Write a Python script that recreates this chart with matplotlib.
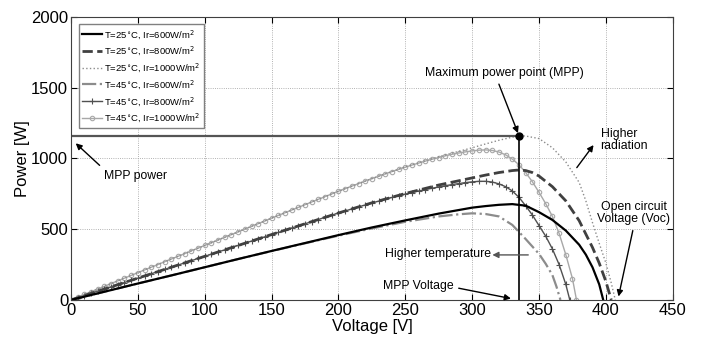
import matplotlib
matplotlib.use("Agg")
from matplotlib import pyplot as plt

plt.rcParams['font.family'] = ['Liberation Sans', 'DejaVu Sans']

# 25C, 600 W/m2 (solid)
v_a = [0, 25, 50, 75, 100, 125, 150, 175, 200, 225, 250, 275, 300, 310, 320, 330,
       340, 350, 360, 370, 380, 385, 390, 395, 398]
p_a = [0, 58, 116, 173, 231, 289, 346, 402, 458, 512, 562, 610, 652, 663, 672, 677,
       666, 620, 565, 490, 390, 320, 230, 110, 0]

# 25C, 800 W/m2 (dashed)
v_b = [0, 25, 50, 75, 100, 125, 150, 175, 200, 225, 250, 275, 300, 310, 320, 330,
       335, 340, 345, 350, 360, 370, 380, 390, 395, 400, 404]
p_b = [0, 77, 154, 231, 308, 385, 462, 538, 614, 686, 752, 812, 862, 882, 900, 914,
       918, 914, 900, 875, 800, 700, 560, 370, 260, 130, 0]

# 25C, 1000 W/m2 (dotted)
v_c = [0, 25, 50, 75, 100, 125, 150, 175, 200, 225, 250, 275, 300, 310, 320, 330,
       335, 340, 350, 360, 370, 380, 385, 390, 395, 400, 404, 407]
p_c = [0, 96, 193, 289, 385, 481, 578, 673, 768, 857, 940, 1012, 1075, 1102, 1128, 1150,
       1160, 1158, 1140, 1075, 975, 830, 700, 545, 400, 260, 120, 0]

# 45C, 600 W/m2 (dash-dot)
v_d = [0, 25, 50, 75, 100, 125, 150, 175, 200, 225, 250, 275, 290, 300, 310, 320,
       330, 340, 350, 355, 360, 363, 366]
p_d = [0, 58, 116, 173, 231, 289, 345, 400, 454, 505, 552, 590, 605, 612, 607, 590,
       530, 430, 325, 255, 175, 95, 0]

# 45C, 800 W/m2 (+ markers)
v_e = [0, 5, 10, 15, 20, 25, 30, 35, 40, 45, 50, 55, 60, 65, 70, 75, 80, 85, 90, 95,
       100, 105, 110, 115, 120, 125, 130, 135, 140, 145, 150, 155, 160, 165, 170, 175,
       180, 185, 190, 195, 200, 205, 210, 215, 220, 225, 230, 235, 240, 245, 250, 255,
       260, 265, 270, 275, 280, 285, 290, 295, 300, 305, 310, 315, 320, 325, 330, 335,
       340, 345, 350, 355, 360, 365, 370, 373]
p_e = [0, 15, 31, 46, 62, 77, 92, 108, 123, 139, 154, 169, 185, 200, 216, 231, 246, 262,
       277, 293, 308, 323, 339, 354, 370, 385, 400, 416, 431, 446, 462, 477, 492, 508,
       523, 538, 553, 568, 584, 599, 614, 628, 643, 657, 671, 685, 698, 711, 724, 736,
       748, 759, 770, 780, 789, 798, 807, 815, 822, 829, 834, 838, 838, 833, 820, 800,
       770, 725, 665, 600, 525, 450, 360, 250, 110, 0]

# 45C, 1000 W/m2 (o markers)
v_f = [0, 5, 10, 15, 20, 25, 30, 35, 40, 45, 50, 55, 60, 65, 70, 75, 80, 85, 90, 95,
       100, 105, 110, 115, 120, 125, 130, 135, 140, 145, 150, 155, 160, 165, 170, 175,
       180, 185, 190, 195, 200, 205, 210, 215, 220, 225, 230, 235, 240, 245, 250, 255,
       260, 265, 270, 275, 280, 285, 290, 295, 300, 305, 310, 315, 320, 325, 330, 335,
       340, 345, 350, 355, 360, 365, 370, 375, 378]
p_f = [0, 19, 39, 58, 77, 96, 116, 135, 154, 173, 193, 212, 231, 250, 270, 289, 308, 327,
       347, 366, 385, 404, 424, 443, 462, 481, 501, 520, 539, 558, 578, 597, 616, 635,
       654, 673, 692, 711, 730, 749, 768, 786, 804, 822, 840, 857, 874, 891, 907, 923,
       938, 953, 967, 981, 994, 1006, 1018, 1029, 1038, 1046, 1053, 1058, 1060, 1056,
       1045, 1025, 995, 955, 900, 835, 760, 680, 590, 470, 320, 150, 0]

labels = ['T=25$^{\\circ}$C, Ir=600W/m$^{2}$',
          'T=25$^{\\circ}$C, Ir=800W/m$^{2}$',
          'T=25$^{\\circ}$C, Ir=1000W/m$^{2}$',
          'T=45$^{\\circ}$C, Ir=600W/m$^{2}$',
          'T=45$^{\\circ}$C, Ir=800W/m$^{2}$',
          'T=45$^{\\circ}$C, Ir=1000W/m$^{2}$']

mpp_v = 335
mpp_p = 1160

fig = plt.figure(figsize=(7.03, 3.37), dpi=100)
ax = fig.add_axes([0.101, 0.11, 0.856, 0.84])

ax.plot(v_f, p_f, color='#a8a8a8', lw=1.0, marker='o', ms=3.2, mfc='none', mew=0.8, label=labels[5])
ax.plot(v_e, p_e, color='#505050', lw=1.0, marker='+', ms=4, mew=0.8, label=labels[4])
ax.plot(v_d, p_d, color='#8c8c8c', lw=1.6, ls='-.', label=labels[3])
ax.plot(v_c, p_c, color='#8c8c8c', lw=1.0, ls=':', label=labels[2])
ax.plot(v_b, p_b, color='#404040', lw=2.0, ls='--', label=labels[1])
ax.plot(v_a, p_a, color='black', lw=1.6, label=labels[0])

# MPP guide lines
ax.plot([0, mpp_v], [mpp_p, mpp_p], color='#555555', lw=1.6)
ax.plot([mpp_v, mpp_v], [0, mpp_p], color='black', lw=1.2)
ax.plot([mpp_v], [mpp_p], 'o', color='black', ms=5)

arr = dict(arrowstyle='-|>', color='black', lw=1.0, mutation_scale=9)
fs = 8.8
ax.annotate('Maximum power point (MPP)', xy=(mpp_v, mpp_p), xytext=(265, 1605),
            fontsize=fs, va='center', ha='left',
            arrowprops=dict(arr, relpos=(0.45, 0.0)))
ax.annotate('MPP power', xy=(2, 1120), xytext=(25, 877), fontsize=fs, va='center',
            ha='left', arrowprops=dict(arr, relpos=(0.0, 1.0)))
ax.annotate('Higher\nradiation', xy=(392, 1110), xytext=(396, 1132), fontsize=fs,
            va='center', ha='left', linespacing=1.0)
ax.annotate('', xy=(392, 1110), xytext=(377, 919), arrowprops=arr)
ax.annotate('Higher temperature', xy=(313, 318), xytext=(235, 325), fontsize=fs,
            va='center', ha='left')
ax.annotate('', xy=(313, 318), xytext=(344, 318), arrowprops=dict(arr, color='#555555'))
ax.annotate('MPP Voltage', xy=(331, 6), xytext=(233, 99), fontsize=fs, va='center',
            ha='left', arrowprops=dict(arr, relpos=(1.0, 0.4)))
ax.annotate('Open circuit\nVoltage (Voc)', xy=(409, 5), xytext=(421, 615), fontsize=fs,
            va='center', ha='center', linespacing=1.05,
            arrowprops=dict(arr, relpos=(0.5, 0.0)))

ax.set_xlim(0, 450)
ax.set_ylim(0, 2000)
ax.set_xticks(range(0, 451, 50))
ax.set_yticks(range(0, 2001, 500))
ax.grid(True, ls=':', color='#999999', lw=0.6)
ax.tick_params(direction='in', top=True, right=True, labelsize=12, length=4, pad=2)
ax.set_xlabel('Voltage [V]', fontsize=12, labelpad=1)
ax.set_ylabel('Power [W]', fontsize=12, labelpad=1)
for s in ax.spines.values():
    s.set_color('#404040')

h, l = ax.get_legend_handles_labels()
order = [5, 4, 3, 2, 1, 0]
ax.legend([h[i] for i in order], [l[i] for i in order], loc='upper left', fontsize=6.8,
          handlelength=2.1, handletextpad=0.25, borderpad=0.35, labelspacing=0.4,
          fancybox=False, edgecolor='#808080', framealpha=1, bbox_to_anchor=(0.005, 0.99))

fig.savefig('out.png', dpi=100)
